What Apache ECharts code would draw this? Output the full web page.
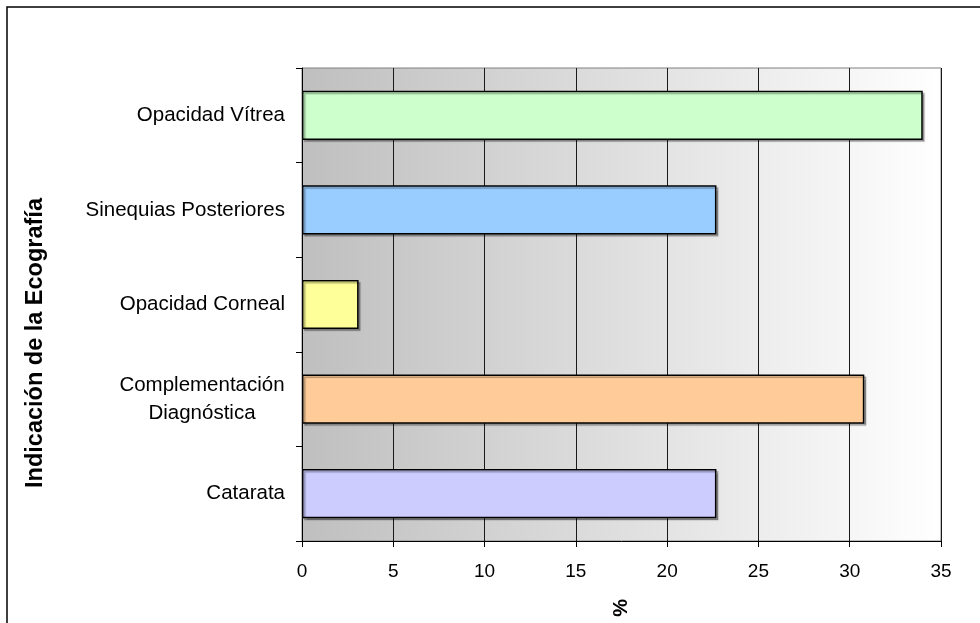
<!DOCTYPE html>
<html>
<head>
<meta charset="utf-8">
<script src="https://cdn.jsdelivr.net/npm/echarts@6/dist/echarts.min.js"></script>
<style>
  html, body { margin: 0; padding: 0; background: #fff; }
  #chart { width: 980px; height: 623px; }
</style>
</head>
<body>
<div id="chart"></div>
<script>
// categorias, de arriba hacia abajo
var categorias = ['Opacidad Vítrea', 'Sinequias Posteriores', 'Opacidad Corneal', 'Complementación\nDiagnóstica', 'Catarata'];
var porcentajes = [34.0, 22.7, 3.1, 30.8, 22.7];
var colores = ['#CCFFCC', '#99CCFF', '#FFFF99', '#FFCC99', '#CCCCFF'];
var ticksX = [0, 5, 10, 15, 20, 25, 30, 35];

var fuente = 'Liberation Sans, Arial, sans-serif';
var chart = echarts.init(document.getElementById('chart'));

var datos = [];
for (var i = 0; i < porcentajes.length; i++) {
	datos.push({
		value: porcentajes[i],
		itemStyle: { color: colores[i] }
	});
}

// etiquetas de dos lineas: centradas entre si
function etiquetaY(v) {
	if (v.indexOf('\n') < 0) return v;
	return v.split('\n').map(function (l) { return '{c|' + l + '}'; }).join('\n');
}

var option = {
	animation: false,
	backgroundColor: '#ffffff',
	grid: {
		left: 302,
		right: 39,
		top: 68,
		bottom: 82,
		show: true,
		borderColor: '#808080',
		borderWidth: 1,
		backgroundColor: new echarts.graphic.LinearGradient(0, 0, 1, 0, [
			{ offset: 0, color: '#bfbfbf' },
			{ offset: 1, color: '#ffffff' }
		])
	},
	xAxis: {
		type: 'value',
		min: ticksX[0],
		max: ticksX[ticksX.length - 1],
		interval: 5,
		name: '%',
		nameLocation: 'middle',
		nameGap: 58,
		nameRotate: 90,
		nameTextStyle: { fontFamily: fuente, fontSize: 20, fontWeight: 'bold', color: '#000' },
		axisLine: { show: true, lineStyle: { color: '#000', width: 1 } },
		axisTick: { show: true, length: 6, lineStyle: { color: '#000' } },
		axisLabel: { fontFamily: fuente, fontSize: 19, color: '#000', margin: 21 },
		splitLine: { show: true, lineStyle: { color: '#1a1a1a', width: 1 } }
	},
	yAxis: {
		type: 'category',
		data: categorias,
		inverse: true,
		axisLine: { show: true, lineStyle: { color: '#000', width: 1 } },
		axisTick: { show: true, length: 6, lineStyle: { color: '#000' } },
		axisLabel: {
			fontFamily: fuente, fontSize: 20.5, color: '#000', margin: 17, lineHeight: 28,
			formatter: etiquetaY,
			rich: {
				c: { fontFamily: fuente, fontSize: 20.5, color: '#000', width: 166, align: 'center', lineHeight: 28 }
			}
		},
		splitLine: { show: false }
	},
	series: [{
		type: 'bar',
		data: datos,
		barWidth: '52%',
		itemStyle: {
			borderColor: '#000',
			borderWidth: 1.5,
			shadowColor: 'rgba(0,0,0,0.3)',
			shadowOffsetX: 2,
			shadowOffsetY: 2,
			shadowBlur: 1
		}
	}],
	graphic: [
		{
			type: 'rect',
			shape: { x: 7, y: 7, width: 1100, height: 1100 },
			style: { fill: 'none', stroke: '#000', lineWidth: 1.5 },
			silent: true
		},
		{
			type: 'text',
			x: 36,
			y: 343,
			rotation: Math.PI / 2,
			style: {
				text: 'Indicación de la Ecografía',
				font: 'bold 23.5px ' + fuente,
				fill: '#000',
				textAlign: 'center',
				textVerticalAlign: 'middle'
			}
		}
	]
};
chart.setOption(option);
</script>
</body>
</html>
